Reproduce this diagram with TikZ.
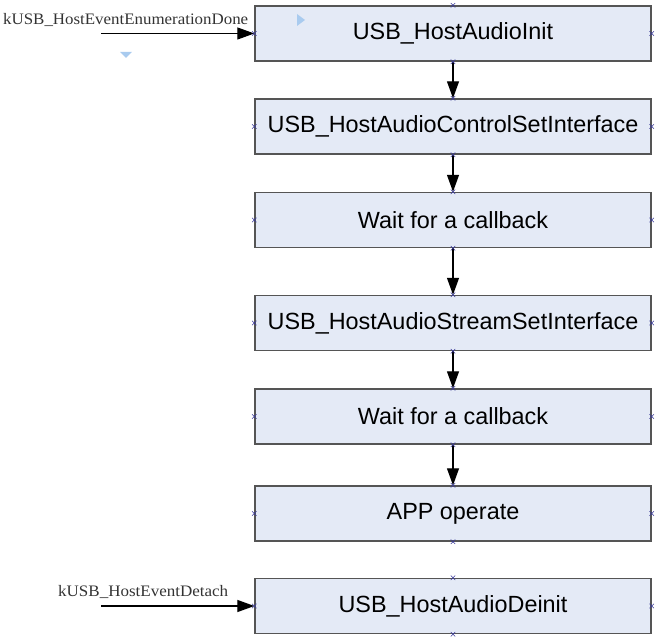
\documentclass[tikz,border=0pt]{standalone}
\usepackage{fontspec}
\usepackage{graphicx}
\setmainfont{Liberation Sans}
\newfontfamily\labelfont{Liberation Serif}
\usetikzlibrary{arrows.meta,shapes.misc}
\definecolor{boxfill}{HTML}{E4EAF6}
\definecolor{boxline}{HTML}{555555}
\definecolor{markblue}{HTML}{3A3A9A}
\definecolor{ghost}{HTML}{A9CBEF}
\begin{document}
\begin{tikzpicture}[x=1pt,y=-1pt,
  stepbox/.style={draw=boxline, line width=1.4pt, fill=boxfill, minimum width=396pt,
    minimum height=55pt, inner sep=0pt, font=\fontsize{23.4}{26}\selectfont},
  flow/.style={line width=1.2pt, -{Triangle[length=17pt,width=12pt]}},
  evlabel/.style={inner sep=0pt, anchor=base west, text=black!80,
    font=\labelfont\fontsize{16}{18}\selectfont},
  xm/.style={cross out, draw=markblue, line width=0.5pt, minimum size=4pt, inner sep=0pt},
]
\useasboundingbox (0,0) rectangle (657,639);
\node[stepbox] (b1) at (453,33.5) {USB\_HostAudioInit};
\node[stepbox] (b2) at (453,126.5) {USB\_HostAudioControlSetInterface};
\node[stepbox] (b3) at (453,220) {Wait for a callback};
\node[stepbox] (b4) at (453,323) {USB\_HostAudioStreamSetInterface};
\node[stepbox] (b5) at (453,416.5) {Wait for a callback};
\node[stepbox] (b6) at (453,513.5) {APP operate};
\node[stepbox] (b7) at (453,606) {USB\_HostAudioDeinit};

\draw[flow] (b1.south) -- (b2.north);
\draw[flow] (b2.south) -- (b3.north);
\draw[flow] (b3.south) -- (b4.north);
\draw[flow] (b4.south) -- (b5.north);
\draw[flow] (b5.south) -- (b6.north);

\node[evlabel] (l1) at (3,25) {\resizebox{245pt}{\height}{kUSB\_HostEventEnumerationDone}};
\node[evlabel] (l2) at (58,596) {\resizebox{170pt}{\height}{kUSB\_HostEventDetach}};
\coordinate (s1) at (101,33.5);
\coordinate (s2) at (101,606);
\draw[flow] (s1) -- (b1.west);
\draw[flow] (s2) -- (b7.west);

\foreach \n in {b1,b2,b3,b4,b5,b6,b7}{
  \foreach \a in {north,south,east,west}{
    \node[xm] at (\n.\a) {};
  }
}

\fill[ghost] (297,14) -- (305,20) -- (297,26) -- cycle;
\fill[ghost] (120,52) -- (132,52) -- (126,58) -- cycle;
\end{tikzpicture}
\end{document}
